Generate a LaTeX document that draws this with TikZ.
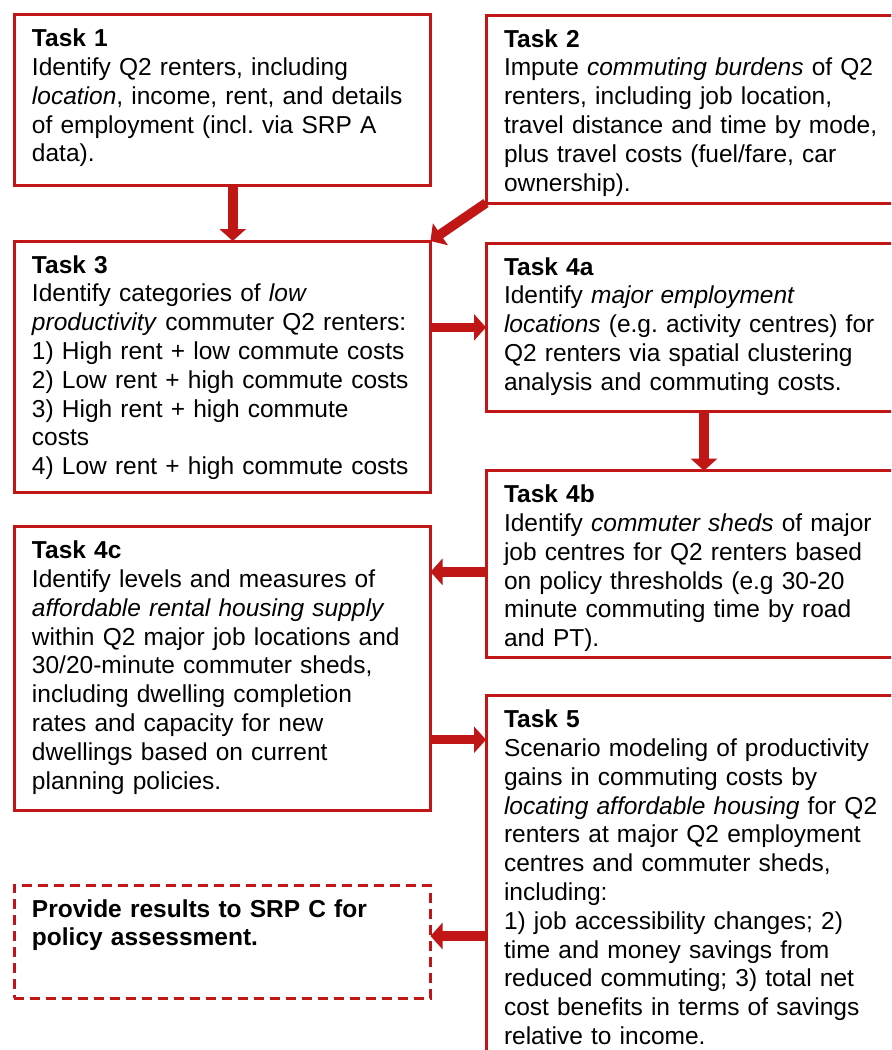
\documentclass[tikz,border=0pt]{standalone}
\usepackage{fontspec}
\setmainfont{Liberation Sans}
\usetikzlibrary{arrows.meta, positioning}
\definecolor{srpred}{RGB}{192, 22, 22}
\frenchspacing

\begin{document}
\begin{tikzpicture}[x=0.5pt, y=-0.5pt,
		task/.style={draw=srpred, line width=1.5pt, anchor=north west, outer sep=0pt,
			align=left, inner xsep=9pt, inner ysep=7pt, text height=9pt,
			font={\fontsize{12.25}{14.4}\selectfont}},
		leftbox/.style={task, text width=190.25pt},
		rightbox/.style={task, text width=200pt},
		flow/.style={draw=srpred, line width=4.75pt, -{Triangle[width=13pt, length=6pt]}}]
	\useasboundingbox (0,0) rectangle (891,1050);
	\clip (0,0) rectangle (891,1050);
	
	% left column
	\node [leftbox, text depth=62.4pt] (t1) at (14,14.7) {\textbf{Task 1}\\
		Identify Q2 renters, including\\
		\textit{location}, income, rent, and details\\
		of employment (incl. via SRP A\\
		data).};
	\node [leftbox, text depth=102.85pt] (t3) at (14,241) {\textbf{Task 3}\\
		Identify categories of \textit{low}\\
		\textit{productivity} commuter Q2 renters:\\
		1) High rent + low commute costs\\
		2) Low rent + high commute costs\\
		3) High rent + high commute\\
		costs\\
		4) Low rent + high commute costs};
	\node [leftbox, text depth=119pt] (t4c) at (14,526.7) {\textbf{Task 4c}\\
		Identify levels and measures of\\
		\textit{affordable rental housing supply}\\
		within Q2 major job locations and\\
		30/20-minute commuter sheds,\\
		including dwelling completion\\
		rates and capacity for new\\
		dwellings based on current\\
		planning policies.};
	\node [leftbox, text depth=33.5pt, dash pattern=on 5pt off 3pt] (fin) at (14,885) {\textbf{Provide results to SRP C for}\\
		\textbf{policy assessment.}};
	
	% right column
	\node [rightbox, text depth=71pt] (t2) at (486,15) {\textbf{Task 2}\\
		Impute \textit{commuting burdens} of Q2\\
		renters, including job location,\\
		travel distance and time by mode,\\
		plus travel costs (fuel/fare, car\\
		ownership).};
	\node [rightbox, text depth=61.35pt] (t4a) at (486,243) {\textbf{Task 4a}\\
		Identify \textit{major employment}\\
		\textit{locations} (e.g. activity centres) for\\
		Q2 renters via spatial clustering\\
		analysis and commuting costs.};
	\node [rightbox, text depth=70.15pt] (t4b) at (486,470.7) {\textbf{Task 4b}\\
		Identify \textit{commuter sheds} of major\\
		job centres for Q2 renters based\\
		on policy thresholds (e.g 30-20\\
		minute commuting time by road\\
		and PT).};
	\node [rightbox, text depth=164pt] (t5) at (486,695.7) {\textbf{Task 5}\\
		Scenario modeling of productivity\\
		gains in commuting costs by\\
		\textit{locating affordable housing} for Q2\\
		renters at major Q2 employment\\
		centres and commuter sheds,\\
		including:\\
		1) job accessibility changes; 2)\\
		time and money savings from\\
		reduced commuting; 3) total net\\
		cost benefits in terms of savings\\
		relative to income.};
	
	% arrows
	\draw [flow] ([xshift=5.25pt]t1.south) -- ([xshift=5.25pt]t3.north);
	\draw [flow] (t2.south west) -- (t3.north east);
	\draw [flow] (t4a.west -| t3.east) -- (t4a.west);
	\draw [flow] (t4a.south) -- (t4b.north);
	\draw [flow] ([yshift=-4pt]t4b.west) -- ([yshift=-4pt]t4b.west -| t4c.east);
	\draw [flow] ([yshift=-22pt]t5.north west -| t4c.east) -- ([yshift=-22pt]t5.north west);
	\draw [flow] ([yshift=2.75pt]fin.east -| t5.west) -- ([yshift=2.75pt]fin.east);
\end{tikzpicture}
\end{document}
